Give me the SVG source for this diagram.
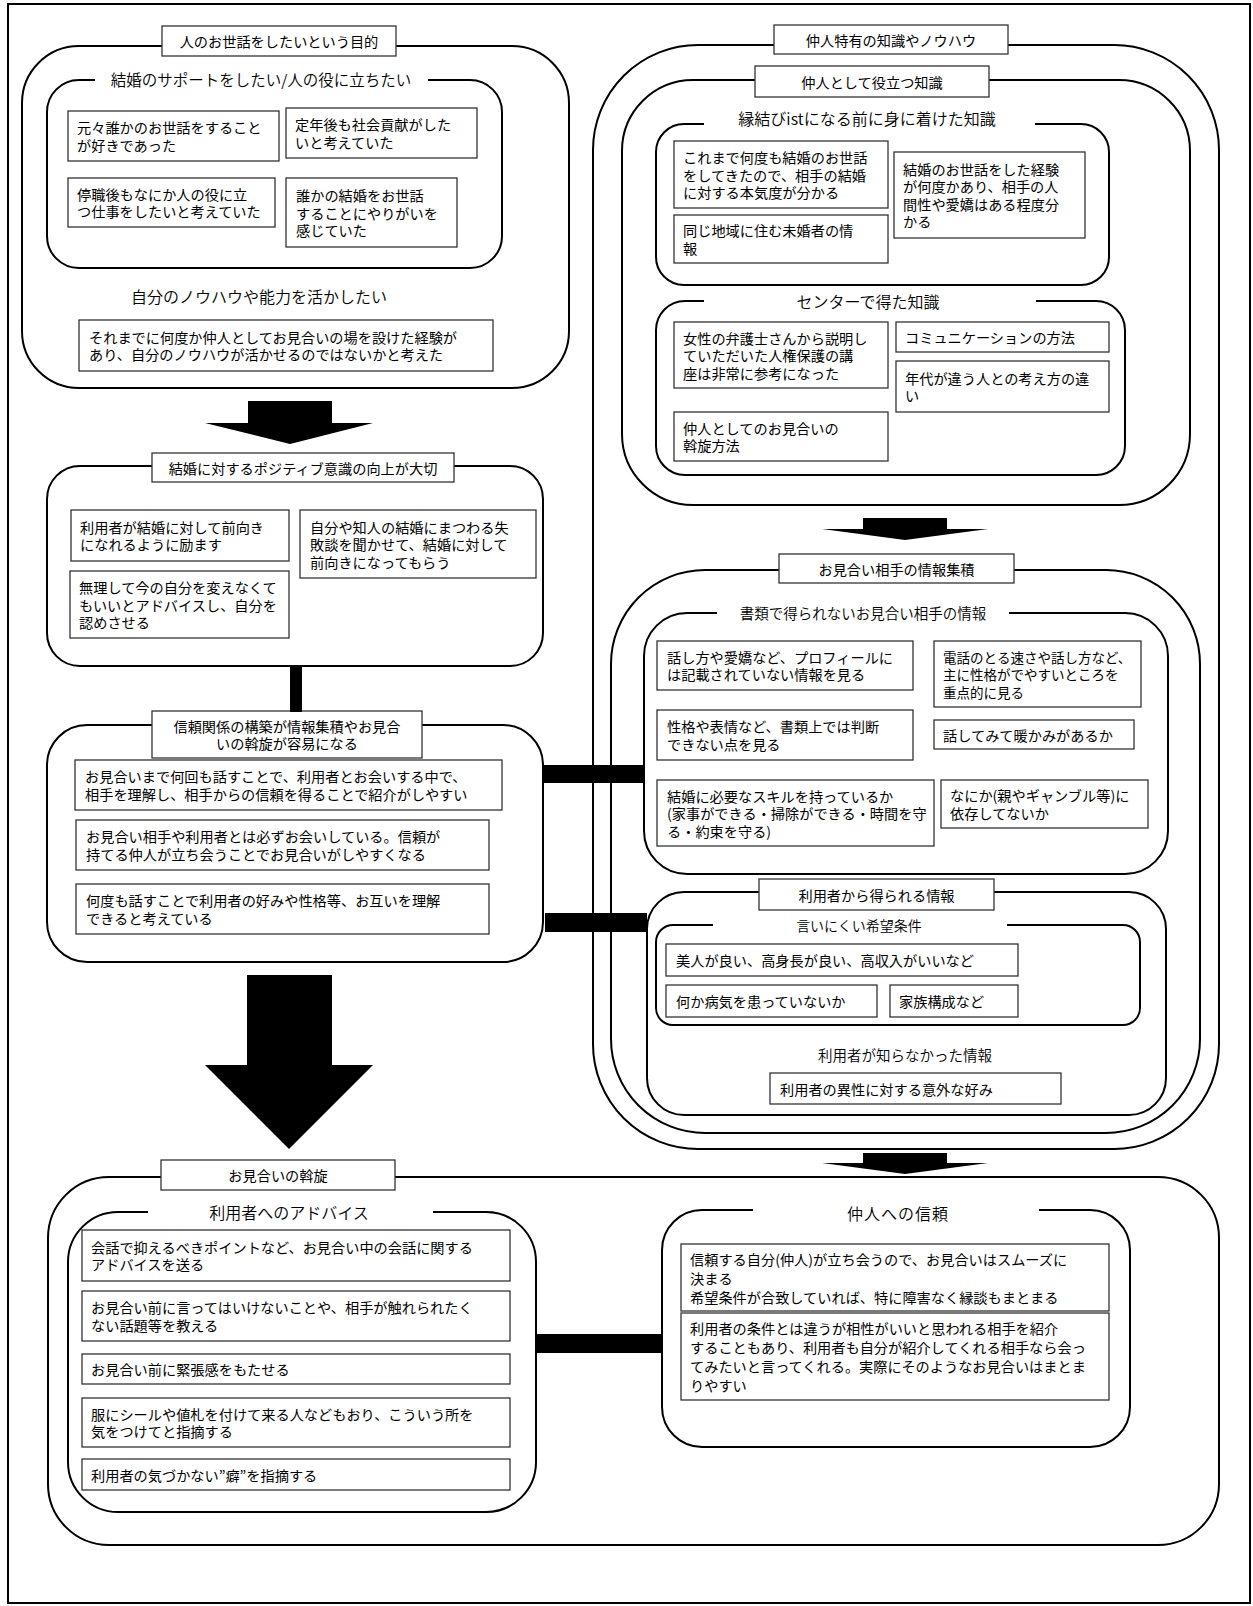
<svg xmlns="http://www.w3.org/2000/svg" width="1253" height="1606" viewBox="0 0 1253 1606">
<style>
.rr{fill:none;stroke:#000;stroke-width:2}
.bx{fill:#fff;stroke:#333;stroke-width:1.3}
.gap{fill:#fff;stroke:none}
text{font-family:"Noto Sans CJK JP","Noto Sans CJK SC",sans-serif;fill:#000;dominant-baseline:central}
.t{font-size:14.2px}
.c{text-anchor:middle;font-size:14.2px}
.h{font-size:15.5px;text-anchor:middle;font-weight:350}
.cn{fill:#000;stroke:none}
</style>
<rect x="0" y="0" width="1253" height="1606" fill="#fff"/>
<rect id="frame" x="8" y="4" width="1242" height="1599" fill="none" stroke="#000" stroke-width="2"/>

<!-- containers -->
<g id="purpose">
  <rect class="rr" x="22" y="46" width="547" height="342" rx="57"/>
  <rect class="rr" x="47" y="80" width="455" height="188" rx="32"/>
  <rect class="gap" x="95" y="72" width="333" height="14"/>
  <text class="h" x="261" y="79">結婚のサポートをしたい/人の役に立ちたい</text>
  <text class="h" x="259" y="296" style="font-size:16px">自分のノウハウや能力を活かしたい</text>
  <rect class="bx" x="162" y="26" width="234" height="30"/>
  <text class="c" x="279" y="41">人のお世話をしたいという目的</text>
</g>
<g id="n1"><rect class="bx" x="68" y="111" width="211" height="50"/><text class="t" x="77" y="127.25">元々誰かのお世話をすること</text><text class="t" x="77" y="144.75">が好きであった</text></g>
<g id="n2"><rect class="bx" x="286" y="108" width="191" height="50"/><text class="t" x="295" y="124.25">定年後も社会貢献がした</text><text class="t" x="295" y="141.75">いと考えていた</text></g>
<g id="n3"><rect class="bx" x="68" y="178" width="207" height="49"/><text class="t" x="77" y="193.75">停職後もなにか人の役に立</text><text class="t" x="77" y="211.25">つ仕事をしたいと考えていた</text></g>
<g id="n4"><rect class="bx" x="286" y="178" width="171" height="69"/><text class="t" x="296" y="195">誰かの結婚をお世話</text><text class="t" x="296" y="212.5">することにやりがいを</text><text class="t" x="296" y="230">感じていた</text></g>
<g id="n5"><rect class="bx" x="79" y="320" width="414" height="51"/><text class="t" x="89" y="336.75">それまでに何度か仲人としてお見合いの場を設けた経験が</text><text class="t" x="89" y="354.25">あり、自分のノウハウが活かせるのではないかと考えた</text></g>

<g id="positive">
  <rect class="rr" x="47" y="466" width="496" height="200" rx="33"/>
  <rect class="bx" x="152" y="453" width="302" height="29"/>
  <text class="c" x="303" y="467.5">結婚に対するポジティブ意識の向上が大切</text>
</g>
<g id="n6"><rect class="bx" x="71" y="510" width="218" height="51"/><text class="t" x="80" y="526.75">利用者が結婚に対して前向き</text><text class="t" x="80" y="544.25">になれるように励ます</text></g>
<g id="n7"><rect class="bx" x="300" y="510" width="236" height="68"/><text class="t" x="310" y="526.5">自分や知人の結婚にまつわる失</text><text class="t" x="310" y="544">敗談を聞かせて、結婚に対して</text><text class="t" x="310" y="561.5">前向きになってもらう</text></g>
<g id="n8"><rect class="bx" x="70" y="571" width="219" height="67"/><text class="t" x="79" y="587">無理して今の自分を変えなくて</text><text class="t" x="79" y="604.5">もいいとアドバイスし、自分を</text><text class="t" x="79" y="622">認めさせる</text></g>

<g id="trust">
  <rect class="rr" x="47" y="725" width="496" height="237" rx="40"/>
  <rect class="bx" x="152" y="711" width="270" height="47"/>
  <text class="c" x="287" y="725.75">信頼関係の構築が情報集積やお見合</text>
  <text class="c" x="287" y="743.25">いの斡旋が容易になる</text>
</g>
<g id="n9"><rect class="bx" x="75" y="760" width="427" height="50"/><text class="t" x="85" y="776.25">お見合いまで何回も話すことで、利用者とお会いする中で、</text><text class="t" x="85" y="793.75">相手を理解し、相手からの信頼を得ることで紹介がしやすい</text></g>
<g id="n10"><rect class="bx" x="76" y="820" width="413" height="50"/><text class="t" x="86" y="836.25">お見合い相手や利用者とは必ずお会いしている。信頼が</text><text class="t" x="86" y="853.75">持てる仲人が立ち会うことでお見合いがしやすくなる</text></g>
<g id="n11"><rect class="bx" x="76" y="884" width="413" height="50"/><text class="t" x="86" y="900.25">何度も話すことで利用者の好みや性格等、お互いを理解</text><text class="t" x="86" y="917.75">できると考えている</text></g>

<!-- right column -->
<g id="knowhow">
  <rect class="rr" x="593" y="45" width="626" height="1104" rx="105"/>
  <rect class="bx" x="774" y="25" width="234" height="29"/>
  <text class="c" x="891" y="39.5">仲人特有の知識やノウハウ</text>
</g>
<g id="knowledge">
  <rect class="rr" x="622" y="80" width="568" height="425" rx="71"/>
  <rect class="bx" x="755" y="66" width="234" height="31"/>
  <text class="c" x="872" y="81.5">仲人として役立つ知識</text>
  <rect class="rr" x="656" y="124" width="453" height="161" rx="28"/>
  <rect class="gap" x="704" y="115" width="331" height="16"/>
  <text class="h" x="867" y="118" style="font-size:16px">縁結びistになる前に身に着けた知識</text>
  <rect class="rr" x="656" y="301" width="469" height="174" rx="29"/>
  <rect class="gap" x="704" y="292" width="332" height="16"/>
  <text class="h" x="868" y="301" style="font-size:16px">センターで得た知識</text>
</g>
<g id="n12"><rect class="bx" x="674" y="141" width="214" height="67"/><text class="t" x="683" y="157">これまで何度も結婚のお世話</text><text class="t" x="683" y="174.5">をしてきたので、相手の結婚</text><text class="t" x="683" y="192">に対する本気度が分かる</text></g>
<g id="n13"><rect class="bx" x="674" y="215" width="214" height="48"/><text class="t" x="683" y="230.25">同じ地域に住む未婚者の情</text><text class="t" x="683" y="247.75">報</text></g>
<g id="n14"><rect class="bx" x="894" y="152" width="191" height="86"/><text class="t" x="903" y="168.75">結婚のお世話をした経験</text><text class="t" x="903" y="186.25">が何度かあり、相手の人</text><text class="t" x="903" y="203.75">間性や愛嬌はある程度分</text><text class="t" x="903" y="221.25">かる</text></g>
<g id="n15"><rect class="bx" x="674" y="322" width="214" height="66"/><text class="t" x="683" y="337.5">女性の弁護士さんから説明し</text><text class="t" x="683" y="355">ていただいた人権保護の講</text><text class="t" x="683" y="372.5">座は非常に参考になった</text></g>
<g id="n16"><rect class="bx" x="896" y="322" width="213" height="30"/><text class="t" x="905" y="337">コミュニケーションの方法</text></g>
<g id="n17"><rect class="bx" x="896" y="361" width="213" height="51"/><text class="t" x="905" y="377.75">年代が違う人との考え方の違</text><text class="t" x="905" y="395.25">い</text></g>
<g id="n18"><rect class="bx" x="674" y="412" width="214" height="49"/><text class="t" x="683" y="427.75">仲人としてのお見合いの</text><text class="t" x="683" y="445.25">斡旋方法</text></g>

<g id="gather">
  <rect class="rr" x="611" y="570" width="589" height="563" rx="94"/>
  <rect class="bx" x="779" y="554" width="235" height="29"/>
  <text class="c" x="896.5" y="568.5">お見合い相手の情報集積</text>
  <rect class="rr" x="644" y="613" width="524" height="261" rx="43"/>
  <rect class="gap" x="717" y="604" width="292" height="16"/>
  <text class="h" x="863" y="612" style="font-size:14.5px">書類で得られないお見合い相手の情報</text>
</g>
<g id="n19"><rect class="bx" x="657" y="641" width="256" height="49"/><text class="t" x="667" y="656.75">話し方や愛嬌など、プロフィールに</text><text class="t" x="667" y="674.25">は記載されていない情報を見る</text></g>
<g id="n20"><rect class="bx" x="934" y="641" width="207" height="66"/><text class="t" x="943" y="656.5" style="font-size:13.5px">電話のとる速さや話し方など、</text><text class="t" x="943" y="674" style="font-size:13.5px">主に性格がでやすいところを</text><text class="t" x="943" y="691.5" style="font-size:13.5px">重点的に見る</text></g>
<g id="n21"><rect class="bx" x="657" y="710" width="256" height="50"/><text class="t" x="667" y="726.25">性格や表情など、書類上では判断</text><text class="t" x="667" y="743.75">できない点を見る</text></g>
<g id="n22"><rect class="bx" x="934" y="720" width="200" height="29"/><text class="t" x="943" y="734.5">話してみて暖かみがあるか</text></g>
<g id="n23"><rect class="bx" x="657" y="780" width="277" height="66"/><text class="t" x="667" y="795.5">結婚に必要なスキルを持っているか</text><text class="t" x="667" y="813">(家事ができる・掃除ができる・時間を守</text><text class="t" x="667" y="830.5">る・約束を守る)</text></g>
<g id="n24"><rect class="bx" x="941" y="780" width="207" height="48"/><text class="t" x="950" y="795.25">なにか(親やギャンブル等)に</text><text class="t" x="950" y="812.75">依存してないか</text></g>

<g id="user-info">
  <rect class="rr" x="647" y="892" width="519" height="223" rx="37"/>
  <rect class="bx" x="759" y="879" width="235" height="31"/>
  <text class="c" x="876.5" y="894.5">利用者から得られる情報</text>
  <rect class="rr" x="656" y="925" width="484" height="100" rx="17"/>
  <rect class="gap" x="713" y="917" width="294" height="16"/>
  <text class="h" x="859" y="925" style="font-size:14px">言いにくい希望条件</text>
  <text class="h" x="905" y="1054" style="font-size:14.5px">利用者が知らなかった情報</text>
</g>
<g id="n25"><rect class="bx" x="666" y="944" width="352" height="32"/><text class="t" x="676" y="960">美人が良い、高身長が良い、高収入がいいなど</text></g>
<g id="n26"><rect class="bx" x="666" y="985" width="211" height="32"/><text class="t" x="676" y="1001">何か病気を患っていないか</text></g>
<g id="n27"><rect class="bx" x="890" y="985" width="128" height="32"/><text class="t" x="899" y="1001">家族構成など</text></g>
<g id="n28"><rect class="bx" x="770" y="1073" width="291" height="31"/><text class="t" x="780" y="1088.5">利用者の異性に対する意外な好み</text></g>

<!-- bottom -->
<g id="mediation">
  <rect class="rr" x="48" y="1177" width="1171" height="368" rx="61"/>
  <rect class="bx" x="161" y="1160" width="234" height="30"/>
  <text class="c" x="278" y="1175">お見合いの斡旋</text>
  <rect class="rr" x="68" y="1212" width="468" height="300" rx="50"/>
  <rect class="gap" x="148" y="1203" width="285" height="18"/>
  <text class="h" x="289" y="1212" style="font-size:16px">利用者へのアドバイス</text>
  <rect class="rr" x="662" y="1210" width="468" height="237" rx="40"/>
  <rect class="gap" x="753" y="1201" width="286" height="18"/>
  <text class="h" x="898" y="1213" style="font-size:16px;letter-spacing:1px">仲人への信頼</text>
</g>
<g id="n29"><rect class="bx" x="82" y="1230" width="428" height="51"/><text class="t" x="91" y="1246.75">会話で抑えるべきポイントなど、お見合い中の会話に関する</text><text class="t" x="91" y="1264.25">アドバイスを送る</text></g>
<g id="n30"><rect class="bx" x="82" y="1291" width="428" height="50"/><text class="t" x="91" y="1307.25">お見合い前に言ってはいけないことや、相手が触れられたく</text><text class="t" x="91" y="1324.75">ない話題等を教える</text></g>
<g id="n31"><rect class="bx" x="82" y="1354" width="428" height="30"/><text class="t" x="91" y="1369">お見合い前に緊張感をもたせる</text></g>
<g id="n32"><rect class="bx" x="82" y="1398" width="428" height="49"/><text class="t" x="91" y="1413.75">服にシールや値札を付けて来る人などもおり、こういう所を</text><text class="t" x="91" y="1431.25">気をつけてと指摘する</text></g>
<g id="n33"><rect class="bx" x="82" y="1459" width="428" height="31"/><text class="t" x="91" y="1474.5">利用者の気づかない”癖”を指摘する</text></g>
<g id="n34"><rect class="bx" x="681" y="1244" width="428" height="67"/><text class="t" x="690" y="1258.5">信頼する自分(仲人)が立ち会うので、お見合いはスムーズに</text><text class="t" x="690" y="1277.5">決まる</text><text class="t" x="690" y="1296.5">希望条件が合致していれば、特に障害なく縁談もまとまる</text></g>
<g id="n35"><rect class="bx" x="681" y="1313" width="428" height="87"/><text class="t" x="690" y="1328">利用者の条件とは違うが相性がいいと思われる相手を紹介</text><text class="t" x="690" y="1347">することもあり、利用者も自分が紹介してくれる相手なら会っ</text><text class="t" x="690" y="1366">てみたいと言ってくれる。実際にそのようなお見合いはまとま</text><text class="t" x="690" y="1385">りやすい</text></g>

<!-- connectors -->
<g id="connectors">
  <polygon class="cn" points="248,401 332,401 332,423 373,423 290,444 205,423 248,423"/>
  <polygon class="cn" points="247,975 332,975 332,1065 373,1065 289,1149 205,1065 247,1065"/>
  <polygon class="cn" points="863,518 947,518 947,529 988,529 905,540 822,529 863,529"/>
  <polygon class="cn" points="863,1153 947,1153 947,1163 988,1163 905,1174 822,1163 863,1163"/>
  <rect class="cn" x="290" y="666" width="12" height="46"/>
  <rect class="cn" x="543" y="765" width="102" height="18"/>
  <rect class="cn" x="545" y="913" width="102" height="19"/>
  <rect class="cn" x="536" y="1334" width="126" height="19"/>
</g>
</svg>
